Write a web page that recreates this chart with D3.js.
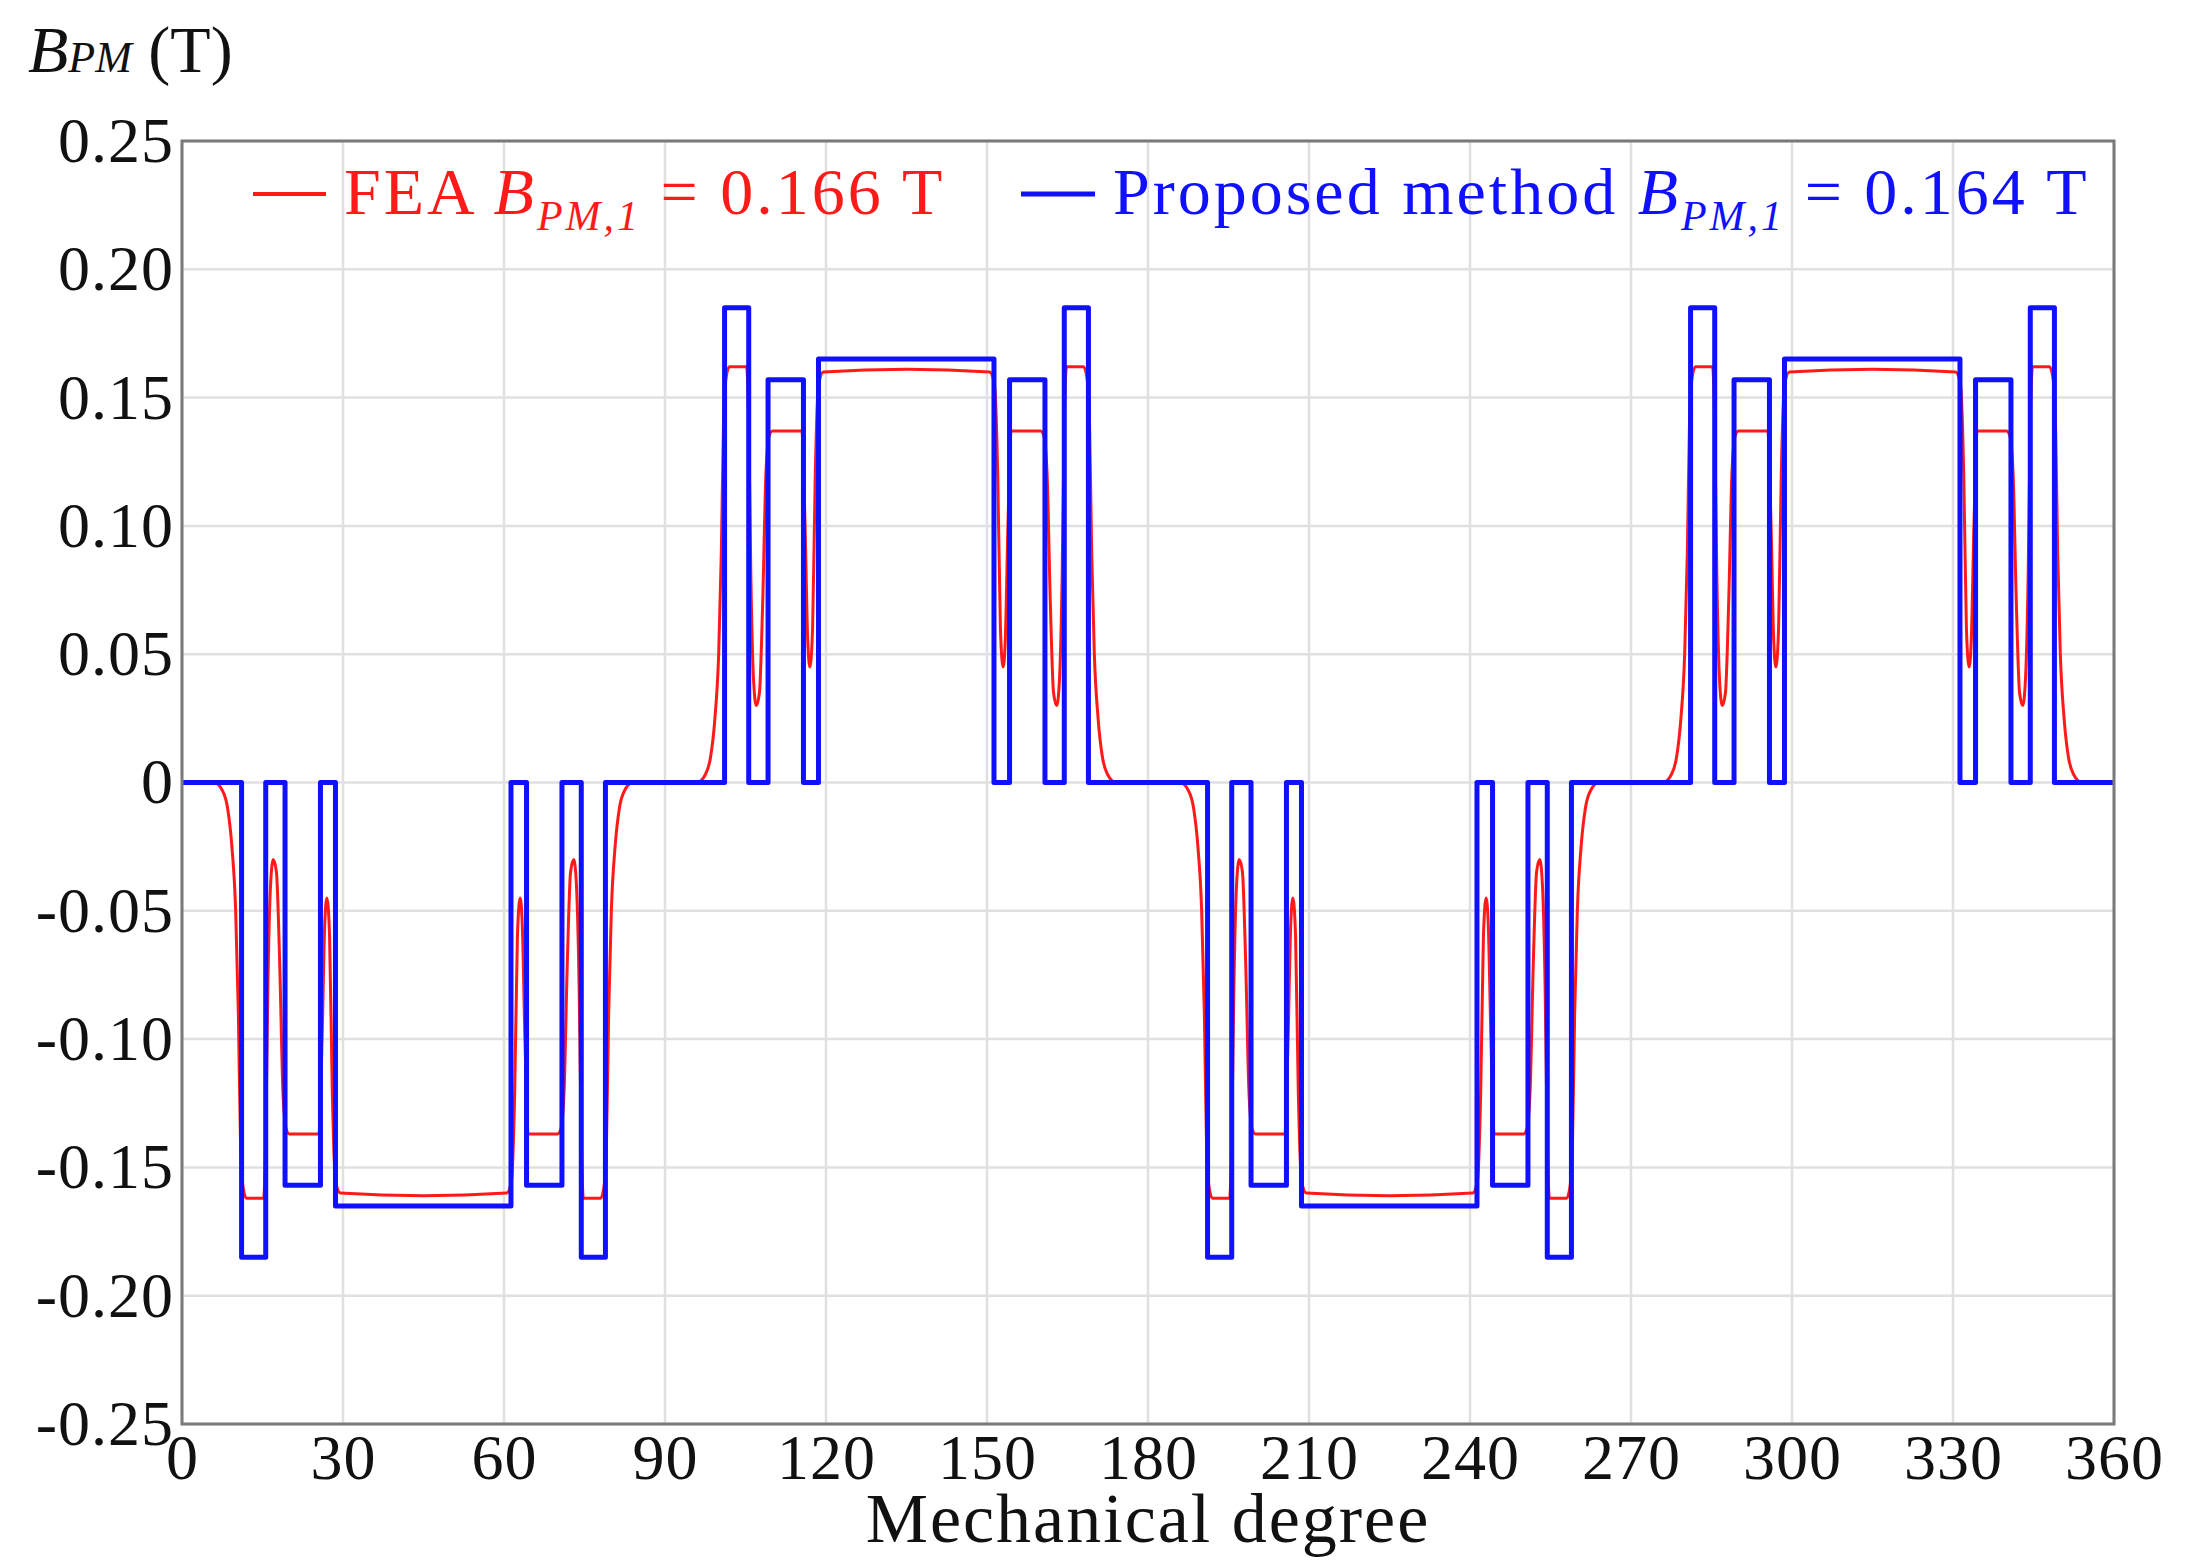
<!DOCTYPE html>
<html><head><meta charset="utf-8">
<script src="https://cdn.jsdelivr.net/npm/d3@7"></script>
<style>body{margin:0;background:#fff}</style></head>
<body><svg id="c" width="2190" height="1568"></svg>
<script>
const xTicks=[0,30,60,90,120,150,180,210,240,270,300,330,360];
const yTicks=[0.25,0.20,0.15,0.10,0.05,0,-0.05,-0.10,-0.15,-0.20,-0.25];
const yTickLabels=["0.25","0.20","0.15","0.10","0.05","0","-0.05","-0.10","-0.15","-0.20","-0.25"];
// Proposed method: [start degree, value] of each step segment
const blueSteps=[[0,0],[11.1,-0.185],[15.6,0],[19.2,-0.157],[25.8,0],[28.6,-0.165],[61.3,0],[64.2,-0.157],[70.8,0],[74.4,-0.185],[78.9,0],
[101.1,0.185],[105.6,0],[109.2,0.157],[115.8,0],[118.6,0.165],[151.3,0],[154.2,0.157],[160.8,0],[164.4,0.185],[168.9,0],
[191.1,-0.185],[195.6,0],[199.2,-0.157],[205.8,0],[208.6,-0.165],[241.3,0],[244.2,-0.157],[250.8,0],[254.4,-0.185],[258.9,0],
[281.1,0.185],[285.6,0],[289.2,0.157],[295.8,0],[298.6,0.165],[331.3,0],[334.2,0.157],[340.8,0],[344.4,0.185],[348.9,0],[360,0]];
// FEA
const redQ1=[[0,0],[6,0],[7.5,-0.003],[8.5,-0.01],[9.3,-0.025],[10,-0.05],[10.5,-0.09],[10.9,-0.14],[11.4,-0.158],[12,-0.162],[15.2,-0.162],[15.6,-0.14],[16,-0.08],[16.5,-0.04],[17,-0.03],[17.6,-0.035],[18.2,-0.07],[18.8,-0.12],[19.4,-0.135],[20,-0.137],[25.5,-0.137],[26.1,-0.1],[26.6,-0.055],[27,-0.045],[27.5,-0.06],[28,-0.12],[28.6,-0.155],[29.5,-0.16],[45,-0.161],[60.5,-0.16],[61.4,-0.155],[62,-0.12],[62.5,-0.06],[63,-0.045],[63.4,-0.055],[63.9,-0.1],[64.5,-0.137],[70,-0.137],[70.6,-0.135],[71.2,-0.12],[71.8,-0.07],[72.4,-0.035],[73,-0.03],[73.5,-0.04],[74,-0.08],[74.4,-0.14],[74.8,-0.162],[78,-0.162],[78.6,-0.158],[79.1,-0.14],[79.5,-0.09],[80,-0.05],[80.7,-0.025],[81.5,-0.01],[82.5,-0.003],[84,0]];
const redQ2=[[90,0],[96,0],[97.5,0.003],[98.5,0.01],[99.3,0.025],[100,0.05],[100.5,0.09],[100.9,0.14],[101.4,0.158],[102,0.162],[105.2,0.162],[105.6,0.14],[106,0.08],[106.5,0.04],[107,0.03],[107.6,0.035],[108.2,0.07],[108.8,0.12],[109.4,0.135],[110,0.137],[115.5,0.137],[116.1,0.1],[116.6,0.055],[117,0.045],[117.5,0.06],[118,0.12],[118.6,0.155],[119.5,0.16],[135,0.161],[150.5,0.16],[151.4,0.155],[152,0.12],[152.5,0.06],[153,0.045],[153.4,0.055],[153.9,0.1],[154.5,0.137],[160,0.137],[160.6,0.135],[161.2,0.12],[161.8,0.07],[162.4,0.035],[163,0.03],[163.5,0.04],[164,0.08],[164.4,0.14],[164.8,0.162],[168,0.162],[168.6,0.158],[169.1,0.14],[169.5,0.09],[170,0.05],[170.7,0.025],[171.5,0.01],[172.5,0.003],[174,0]];
const redQ3=[[180,0],[186,0],[187.5,-0.003],[188.5,-0.01],[189.3,-0.025],[190,-0.05],[190.5,-0.09],[190.9,-0.14],[191.4,-0.158],[192,-0.162],[195.2,-0.162],[195.6,-0.14],[196,-0.08],[196.5,-0.04],[197,-0.03],[197.6,-0.035],[198.2,-0.07],[198.8,-0.12],[199.4,-0.135],[200,-0.137],[205.5,-0.137],[206.1,-0.1],[206.6,-0.055],[207,-0.045],[207.5,-0.06],[208,-0.12],[208.6,-0.155],[209.5,-0.16],[225,-0.161],[240.5,-0.16],[241.4,-0.155],[242,-0.12],[242.5,-0.06],[243,-0.045],[243.4,-0.055],[243.9,-0.1],[244.5,-0.137],[250,-0.137],[250.6,-0.135],[251.2,-0.12],[251.8,-0.07],[252.4,-0.035],[253,-0.03],[253.5,-0.04],[254,-0.08],[254.4,-0.14],[254.8,-0.162],[258,-0.162],[258.6,-0.158],[259.1,-0.14],[259.5,-0.09],[260,-0.05],[260.7,-0.025],[261.5,-0.01],[262.5,-0.003],[264,0]];
const redQ4=[[270,0],[276,0],[277.5,0.003],[278.5,0.01],[279.3,0.025],[280,0.05],[280.5,0.09],[280.9,0.14],[281.4,0.158],[282,0.162],[285.2,0.162],[285.6,0.14],[286,0.08],[286.5,0.04],[287,0.03],[287.6,0.035],[288.2,0.07],[288.8,0.12],[289.4,0.135],[290,0.137],[295.5,0.137],[296.1,0.1],[296.6,0.055],[297,0.045],[297.5,0.06],[298,0.12],[298.6,0.155],[299.5,0.16],[315,0.161],[330.5,0.16],[331.4,0.155],[332,0.12],[332.5,0.06],[333,0.045],[333.4,0.055],[333.9,0.1],[334.5,0.137],[340,0.137],[340.6,0.135],[341.2,0.12],[341.8,0.07],[342.4,0.035],[343,0.03],[343.5,0.04],[344,0.08],[344.4,0.14],[344.8,0.162],[348,0.162],[348.6,0.158],[349.1,0.14],[349.5,0.09],[350,0.05],[350.7,0.025],[351.5,0.01],[352.5,0.003],[354,0],[360,0]];

const L=182,R=2114,T=141,B=1424;
const svg=d3.select("#c");
const x=d3.scaleLinear().domain([0,360]).range([L,R]);
const y=d3.scaleLinear().domain([-0.25,0.25]).range([B,T]);
const F="'Liberation Serif','DejaVu Serif',serif";
svg.append("g").selectAll("line").data(xTicks).join("line")
 .attr("x1",d=>x(d)).attr("x2",d=>x(d)).attr("y1",T).attr("y2",B).attr("stroke","#e0e0e0").attr("stroke-width",2.5);
svg.append("g").selectAll("line").data(yTicks).join("line")
 .attr("y1",d=>y(d)).attr("y2",d=>y(d)).attr("x1",L).attr("x2",R).attr("stroke","#e0e0e0").attr("stroke-width",2.5);
const xa=svg.append("g").attr("transform",`translate(0,${B})`).call(d3.axisBottom(x).tickValues(xTicks).tickSize(0).tickPadding(10));
xa.select(".domain").remove();
xa.selectAll("text").attr("font-family",F).attr("font-size",64).attr("letter-spacing",1).attr("fill","#111");
const ya=svg.append("g").attr("transform",`translate(${L},0)`).call(d3.axisLeft(y).tickValues(yTicks).tickSize(0).tickPadding(8).tickFormat((d,i)=>yTickLabels[i]));
ya.select(".domain").remove();
ya.selectAll("text").attr("font-family",F).attr("font-size",64).attr("letter-spacing",1).attr("fill","#111");
const redLine=d3.line().x(d=>x(d[0])).y(d=>y(d[1])).curve(d3.curveMonotoneX);
const redAll=[...redQ1,...redQ2,...redQ3,...redQ4];
svg.append("path").datum(redAll).attr("d",redLine).attr("fill","none").attr("stroke","#ff1a1a").attr("stroke-width",3);
const blueLine=d3.line().x(d=>x(d[0])).y(d=>y(d[1])).curve(d3.curveStepAfter);
svg.append("path").datum(blueSteps).attr("d",blueLine).attr("fill","none").attr("stroke","#1010ff").attr("stroke-width",5).attr("stroke-linejoin","round");
svg.append("rect").attr("x",L).attr("y",T).attr("width",R-L).attr("height",B-T).attr("fill","none").attr("stroke","#7a7a7a").attr("stroke-width",3);
const yt=svg.append("text").attr("x",28).attr("y",72).attr("font-family",F).attr("font-size",66).attr("fill","#111");
yt.append("tspan").attr("font-style","italic").text("B");
yt.append("tspan").attr("font-style","italic").attr("font-size",44).text("PM");
yt.append("tspan").text(" (T)");
svg.append("text").attr("x",(L+R)/2).attr("y",1542).attr("text-anchor","middle").attr("font-family",F).attr("font-size",70).attr("letter-spacing",2).attr("fill","#111").text("Mechanical degree");
function legend(x0,x1,tx,color,label,val){
 svg.append("line").attr("x1",x0).attr("x2",x1).attr("y1",194).attr("y2",194).attr("stroke",color).attr("stroke-width",color==="#1010ff"?5:4);
 const t=svg.append("text").attr("x",tx).attr("y",214).attr("font-family",F).attr("font-size",66).attr("letter-spacing",3).attr("fill",color);
 t.append("tspan").text(label+" ");
 t.append("tspan").attr("font-style","italic").text("B");
 t.append("tspan").attr("font-style","italic").attr("font-size",42).attr("dy",16).text("PM,1");
 t.append("tspan").attr("dy",-16).text(" = "+val+" T");
}
legend(253,326,344,"#ff1a1a","FEA","0.166");
legend(1021,1095,1113,"#1010ff","Proposed method","0.164");
</script></body></html>
